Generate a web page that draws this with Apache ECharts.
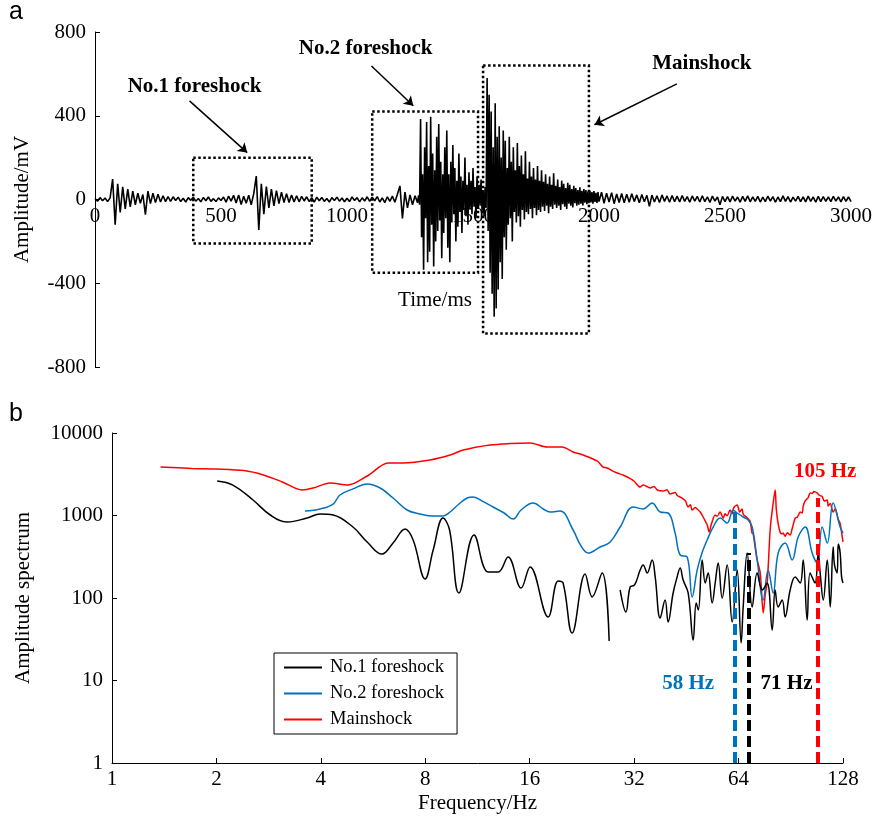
<!DOCTYPE html>
<html>
<head>
<meta charset="utf-8">
<script src="https://cdn.jsdelivr.net/npm/echarts@6/dist/echarts.min.js"></script>
<style>
html, body { margin: 0; padding: 0; background: #fff; }
#main { width: 875px; height: 824px; }
</style>
</head>
<body>
<div id="main"></div>
<script>
// ---- panel a : waveform (three stretches with their own sampling) ----
const quietStart = 0, quietStep = 10;
const quietVals = [
  5, -8, 9, -6, 7, -10, 8, 98, -120, 75,
  -62, 60, -45, 50, -35, 40, -25, 30, -18, 24,
  -72, 40, -20, 30, -15, 25, -12, 18, -10, 14,
  -9, 13, -5, 11, -10, 6, -12, 9, -4, 11,
  -8, 5, -11, 10, -6, 12, -9, 4, -10, 8,
  -5, 12, -13, 16, -8, 20, -17, 22, -24, 15,
  -18, 20, -25, 28, 112, -145, 75, -70, 62, -40,
  50, -30, 42, -20, 35, -15, 28, -14, 22, -12,
  18, -11, 15, -7, 13, -10, 9, -12, 11, -6,
  10, -9, 5, -12, 9, -5, 11, -8, 7, -11,
  6, -10, 12, -5, 9, -11, 8, -7, 13, -9,
  11, -6, 14, -12, 8, -15, 13, -9, 16, -13,
  25, 65, -90, 35, -40, 22, -25, 18, -15
];
const burstStart = 1284, burstStep = 4;
const burstVals = [
  20, -25, 385, -180, 120, -335, 250, -90, 370, -300,
  160, -250, 395, -120, 220, -320, 140, -200, 300, -150,
  360, -100, 180, -280, 120, -160, 250, -90, 330, -230,
  120, -300, 180, -110, 260, -70, 150, -200, 90, -130,
  220, -60, 110, -160, 90, -50, 200, -80, 70, -120,
  130, -40, 90, -70, 150, -35, 60, -90, 110, -45,
  70, -30, 95, -55, 45, -80, 60, -40, 580, -150,
  500, -350, 420, -450, 250, -560, 460, -520, 300, -430,
  350, -300, 200, -380, 330, -180, 280, -240, 150, -120,
  300, -90, 180, -200, 250, -60, 140, -110, 270, -80,
  160, -130, 210, -50, 120, -95, 230, -60, 100, -70,
  180, -45, 110, -90, 150, -40, 95, -75, 160, -50,
  90, -60, 140, -35, 85, -55, 120, -30, 75, -65,
  110, -35, 70, -45, 125, -25, 65, -40, 95, -30,
  60, -50, 90, -22, 75, -35, 55, -45, 80, -20,
  70, -30, 50, -38, 65, -18, 55, -30, 45, -25,
  58, -20, 42, -28, 50, -15, 45, -22, 38, -18,
  42, -14, 36, -20, 40, -12, 32, -16, 35, -10
];
const tailStart = 2010, tailStep = 10;
const tailVals = [
  35, -18, 30, -12, 33, -20, 26, -14, 29, -16,
  25, -13, 28, -10, 22, -15, 24, -11, 20, -32,
  21, -12, 18, -14, 22, -9, 17, -13, 19, -10,
  16, -12, 19, -9, 14, -13, 17, -8, 15, -12,
  18, -10, 13, -14, 16, -8, 12, -25, 15, -10,
  14, -11, 16, -8, 12, -13, 15, -9, 17, -11,
  13, -9, 15, -12, 11, -10, 16, -8, 14, -13,
  12, -10, 17, -9, 14, -12, 11, -8, 15, -10,
  13, -11, 16, -9, 12, -13, 15, -10, 14, -9,
  12, -10, 15, -8, 13, -11, 14, -9, 12, -10
];
const timeTicks = [0, 500, 1000, 1500, 2000, 2500, 3000];
const ampTicks = [-800, -400, 0, 400, 800];

// dotted boxes [t0, t1, a0, a1]
const boxes = [[390, 860, -210, 200], [1100, 1520, -350, 420], [1540, 1960, -640, 640]];
// arrows [tFrom, aFrom, tTo, aTo]
const arrows = [[375, 471, 604, 224], [1097, 638, 1263, 448], [2309, 552, 1982, 357]];
const noteText = ['No.1 foreshock', 'No.2 foreshock', 'Mainshock'];
const notePos = [[395, 538], [1074, 719], [2408, 648]];

// ---- panel b : amplitude spectra [frequency Hz, amplitude] ----
const seriesNames = ['No.1 foreshock', 'No.2 foreshock', 'Mainshock'];
const specNo1 = [
  [2.01, 2620], [2.23, 2340], [2.55, 1541], [2.86, 1014], [3.2, 834], [3.65, 933], [3.98, 1043],
  [4.34, 1014], [4.95, 725], [5.44, 477], [6.0, 341], [6.46, 464], [7.0, 686], [7.38, 505],
  [7.99, 170], [8.43, 382], [9.0, 933], [9.4, 667], [10.0, 115], [11.06, 580], [12.14, 207],
  [12.97, 207], [13.86, 314], [15.11, 132], [16.04, 238], [18.08, 58.9], [19.32, 161],
  [19.97, 152], [21.2, 37.6], [23.11, 195], [24.21, 103], [25.87, 201], [27.11, 30.1],
  [28.0, '-'],
  [29.16, 125], [30.3, 67.6], [31.16, 136], [32.1, 144], [33.3, 218], [33.97, 251], [34.9, 201],
  [36.06, 289], [36.8, 180], [38.03, 57.2], [39.3, 94.6], [40.1, 51.2], [41.45, 115],
  [42.57, 180], [43.43, 231], [44.3, 165], [45.8, 115], [47.35, 31], [48.3, 87], [49.0, 71.6],
  [50.26, 289], [51.3, 152], [52.3, 201], [53.71, 87], [54.8, 152], [55.9, 266], [57.4, 100],
  [59.33, 251], [61.34, 51.2], [63.41, 218], [65.1, 28.5], [65.99, 77.8], [67.76, 351],
  [70.05, 77.8], [72.42, 201], [74.9, 125], [77.38, 152], [79.99, 40.9], [81.59, 125],
  [83.23, 77.8], [85.47, 94.6], [87.19, 58.9], [90.14, 125], [93.18, 180], [96.33, 152],
  [98.27, 289], [100.9, 54.1], [102.9, 201], [106.3, 152], [108.6, 351], [110.0, 200],
  [112.3, 94.6], [115.3, 289], [117.6, 77.8], [119.9, 415], [121.0, 250], [123.1, 201],
  [124.0, 450], [125.6, 351], [126.8, 180], [128, 152]
];
const specNo2 = [
  [3.6, 1134], [3.98, 1199], [4.34, 1378], [4.54, 1771], [4.95, 2100], [5.44, 2410], [5.93, 2154],
  [6.46, 1630], [7.09, 1166], [7.73, 1043], [8.43, 986], [9.0, 986], [9.43, 1103], [10.0, 1378],
  [10.56, 1629], [10.99, 1675], [11.8, 1460], [12.55, 1267], [13.5, 1072], [14.33, 907],
  [15.1, 1166], [16.37, 1419], [17.5, 1199], [18.32, 1103], [19.58, 1134], [21.34, 667],
  [22.4, 440], [23.58, 351], [25.53, 415], [27.29, 477], [29.16, 725], [31.79, 1267],
  [33.97, 1199], [36.06, 1419], [38.03, 1103], [40.1, 1072], [42.0, 613], [43.43, 332],
  [45.5, 314], [47.03, 103], [48.62, 218], [50.3, 360], [51.96, 505], [54.06, 725],
  [56.64, 933], [59.33, 811], [61.75, 1166], [63.4, 1072], [65.99, 959], [68.2, 882],
  [70.05, 725], [72.42, 289], [75.35, 94.6], [77.89, 218], [80.52, 115], [83.23, 351],
  [87.19, 464], [91.35, 289], [95.06, 549], [99.59, 725], [104.3, 351], [107.8, 266],
  [111.5, 725], [115.3, 464], [119.9, 1419], [125.6, 725], [128, 613]
];
const specMain = [
  [1.38, 3870], [1.7, 3720], [2.01, 3660], [2.4, 3500], [2.73, 3100], [3.1, 2550], [3.53, 2040],
  [3.8, 2150], [4.25, 2480], [4.79, 2340], [5.44, 3010], [6.25, 4330], [6.9, 4330], [8.26, 4710],
  [9.43, 5410], [10.28, 6220], [12.3, 7160], [14.0, 7450], [16.04, 7570], [17.96, 6760],
  [19.84, 6760], [21.34, 5890], [22.8, 5410], [25.03, 4580], [26.05, 3870], [26.75, 3770],
  [27.6, 3500], [28.59, 3275], [29.7, 3100], [31.2, 2800], [32.0, 2600], [33.3, 2213],
  [34.0, 2350], [35.6, 2150], [36.5, 2250], [37.3, 2040], [38.8, 1980], [39.8, 2050],
  [40.6, 1820], [42.0, 1900], [42.6, 1750], [43.4, 1675], [44.3, 1590], [45.0, 1500],
  [45.8, 1267], [46.5, 1350], [47.0, 1166], [48.0, 1250], [48.6, 1200], [49.6, 1103],
  [50.3, 1000], [51.0, 900], [52.0, 760], [52.65, 631], [53.5, 800], [54.8, 1014], [55.5, 980],
  [56.6, 1100], [57.8, 933], [58.5, 1050], [59.3, 990], [60.5, 1166], [61.3, 1050], [62.0, 1250],
  [63.4, 1340], [64.5, 1100], [65.5, 1200], [66.0, 1040], [67.8, 933], [69.1, 850], [70.0, 614],
  [70.5, 600], [71.5, 400], [72.4, 290], [73.9, 201], [75.4, 66], [76.4, 110], [77.4, 152],
  [79.0, 700], [80.5, 1400], [81.6, 2037], [82.2, 1200], [83.2, 800], [84.4, 620], [85.5, 600],
  [86.0, 614], [87.2, 560], [88.5, 620], [90.1, 580], [91.4, 700], [93.2, 930], [94.4, 950],
  [95.1, 1000], [96.3, 1100], [97.6, 1072], [98.3, 1300], [99.6, 1500], [101.6, 1650],
  [102.9, 1880], [104.3, 1850], [105.5, 1950], [107.8, 1875], [109.5, 1750], [111.5, 1700],
  [113.0, 1500], [115.3, 1540], [116.0, 1300], [117.6, 1400], [119.9, 1100], [121.6, 1200],
  [124.0, 900], [125.6, 800], [127.0, 600], [128, 480]
];
const freqTicks = [1, 2, 4, 8, 16, 32, 64, 128];
const specTicks = [1, 10, 100, 1000, 10000];

// dominant frequency markers: [line frequency, line top, label text, label freq, label amp]
const peakNo1 = [68.7, 351, '71 Hz', 88, 9.3];
const peakNo2 = [62.5, 1166, '58 Hz', 45.8, 9.1];
const peakMain = [108.5, 1629, '105 Hz', 113.7, 3365];

const colors = ['#000000', '#0072BD', '#FF0000'];
const serif = '"Liberation Serif", "Times New Roman", serif';

function expand(start, step, vals) {
  return vals.map((v, i) => [start + i * step, v]);
}
const wave = expand(quietStart, quietStep, quietVals)
  .concat(expand(burstStart, burstStep, burstVals))
  .concat(expand(tailStart, tailStep, tailVals));

function peakMarks(p, color) {
  return {
    markLine: {
      silent: true,
      symbol: ['none', 'none'],
      label: { show: false },
      lineStyle: { color: color, width: 4, type: [11, 5] },
      data: [[{ coord: [p[0], 1] }, { coord: [p[0], p[1]] }]]
    },
    markPoint: {
      silent: true,
      symbol: 'circle',
      symbolSize: 1,
      itemStyle: { color: 'rgba(0,0,0,0)' },
      label: {
        show: true, position: 'inside', formatter: p[2],
        color: color, fontFamily: serif, fontWeight: 'bold', fontSize: 21
      },
      data: [{ coord: [p[3], p[4]] }]
    }
  };
}

const gridA = { left: 95, top: 32, width: 760, height: 335 };
const gridB = { left: 112, top: 433, width: 731, height: 330 };
const ampMin = ampTicks[0], ampMax = ampTicks[ampTicks.length - 1];
// lift the time axis up to the zero line of panel a
const zeroLift = -gridA.height * (0 - ampMin) / (ampMax - ampMin);

const chart = echarts.init(document.getElementById('main'));
const axisText = { color: '#000', fontFamily: serif, fontSize: 21 };

chart.setOption({
  animation: false,
  backgroundColor: '#fff',
  graphic: [
    { type: 'text', left: 9, top: 0, style: { text: 'a', font: '25px "Liberation Sans", Arial', fill: '#000' } },
    { type: 'text', left: 9, top: 402, style: { text: 'b', font: '25px "Liberation Sans", Arial', fill: '#000' } }
  ],
  legend: {
    data: seriesNames,
    orient: 'vertical',
    left: 274,
    top: 653,
    icon: 'rect',
    itemWidth: 38,
    itemHeight: 2,
    itemGap: 7,
    padding: [5, 13, 5, 10],
    borderColor: '#000',
    borderWidth: 1,
    selectedMode: false,
    textStyle: { color: '#000', fontFamily: serif, fontSize: 18.5, padding: [0, 0, 0, 3] }
  },
  grid: [gridA, gridB],
  xAxis: [
    {
      gridIndex: 0,
      type: 'value',
      min: timeTicks[0],
      max: timeTicks[timeTicks.length - 1],
      interval: timeTicks[1] - timeTicks[0],
      offset: zeroLift,
      axisLine: { show: false, onZero: false },
      axisTick: { show: false },
      splitLine: { show: false },
      axisLabel: Object.assign({ margin: 6, formatter: v => String(v) }, axisText),
      name: 'Time/ms',
      nameLocation: 'middle',
      nameGap: 90,
      nameTextStyle: Object.assign({ padding: [0, 76, 0, 0] }, axisText)
    },
    {
      gridIndex: 1,
      type: 'log',
      logBase: 2,
      min: freqTicks[0],
      max: freqTicks[freqTicks.length - 1],
      splitNumber: freqTicks.length - 1,
      axisLine: { show: true, lineStyle: { color: '#000', width: 1 } },
      axisTick: { show: true, inside: true, length: 5, lineStyle: { color: '#000' } },
      minorTick: { show: false },
      splitLine: { show: false },
      axisLabel: Object.assign({ margin: 6, formatter: v => String(Math.round(v)) }, axisText),
      name: 'Frequency/Hz',
      nameLocation: 'middle',
      nameGap: 30,
      nameTextStyle: axisText
    }
  ],
  yAxis: [
    {
      gridIndex: 0,
      type: 'value',
      min: ampMin,
      max: ampMax,
      interval: ampTicks[1] - ampTicks[0],
      axisLine: { show: true, onZero: false, lineStyle: { color: '#000', width: 1 } },
      axisTick: { show: true, inside: true, length: 5, lineStyle: { color: '#000' } },
      splitLine: { show: false },
      axisLabel: Object.assign({ margin: 9, formatter: v => String(v) }, axisText),
      name: 'Amplitude/mV',
      nameLocation: 'middle',
      nameGap: 62,
      nameTextStyle: axisText
    },
    {
      gridIndex: 1,
      type: 'log',
      logBase: 10,
      min: specTicks[0],
      max: specTicks[specTicks.length - 1],
      splitNumber: specTicks.length - 1,
      axisLine: { show: true, lineStyle: { color: '#000', width: 1 } },
      axisTick: { show: true, inside: true, length: 5, lineStyle: { color: '#000' } },
      minorTick: { show: false },
      splitLine: { show: false },
      axisLabel: Object.assign({ margin: 9, formatter: v => String(Math.round(v)) }, axisText),
      name: 'Amplitude spectrum',
      nameLocation: 'middle',
      nameGap: 78,
      nameTextStyle: axisText
    }
  ],
  series: [
    {
      name: 'waveform',
      type: 'line',
      xAxisIndex: 0,
      yAxisIndex: 0,
      symbol: 'none',
      data: wave,
      lineStyle: { color: '#000', width: 1.6 },
      z: 2
    },
    {
      name: 'annotations',
      type: 'line',
      xAxisIndex: 0,
      yAxisIndex: 0,
      data: [],
      z: 3,
      markArea: {
        silent: true,
        itemStyle: { color: 'rgba(0,0,0,0)', borderColor: '#000', borderWidth: 2.5, borderType: [2.5, 2.5] },
        data: boxes.map(b => [{ coord: [b[0], b[3]] }, { coord: [b[1], b[2]] }])
      },
      markLine: {
        silent: true,
        symbol: ['none', 'arrow'],
        symbolSize: 9,
        label: { show: false },
        lineStyle: { color: '#000', width: 1.5, type: 'solid' },
        data: arrows.map(a => [{ coord: [a[0], a[1]] }, { coord: [a[2], a[3]] }])
      },
      markPoint: {
        silent: true,
        symbol: 'circle',
        symbolSize: 1,
        itemStyle: { color: 'rgba(0,0,0,0)' },
        label: {
          show: true, position: 'inside', formatter: p => p.name,
          color: '#000', fontFamily: serif, fontWeight: 'bold', fontSize: 21
        },
        data: notePos.map((p, i) => ({ name: noteText[i], coord: p }))
      }
    },
    Object.assign({
      name: seriesNames[0],
      type: 'line',
      xAxisIndex: 1,
      yAxisIndex: 1,
      symbol: 'none',
      smooth: 0.4,
      data: specNo1,
      itemStyle: { color: colors[0] },
      lineStyle: { color: colors[0], width: 1.5 },
      z: 4
    }, peakMarks(peakNo1, colors[0])),
    Object.assign({
      name: seriesNames[1],
      type: 'line',
      xAxisIndex: 1,
      yAxisIndex: 1,
      symbol: 'none',
      smooth: 0.4,
      data: specNo2,
      itemStyle: { color: colors[1] },
      lineStyle: { color: colors[1], width: 1.5 },
      z: 3
    }, peakMarks(peakNo2, colors[1])),
    Object.assign({
      name: seriesNames[2],
      type: 'line',
      xAxisIndex: 1,
      yAxisIndex: 1,
      symbol: 'none',
      smooth: 0.3,
      data: specMain,
      itemStyle: { color: colors[2] },
      lineStyle: { color: colors[2], width: 1.5 },
      z: 2
    }, peakMarks(peakMain, colors[2]))
  ]
});
</script>
</body>
</html>
